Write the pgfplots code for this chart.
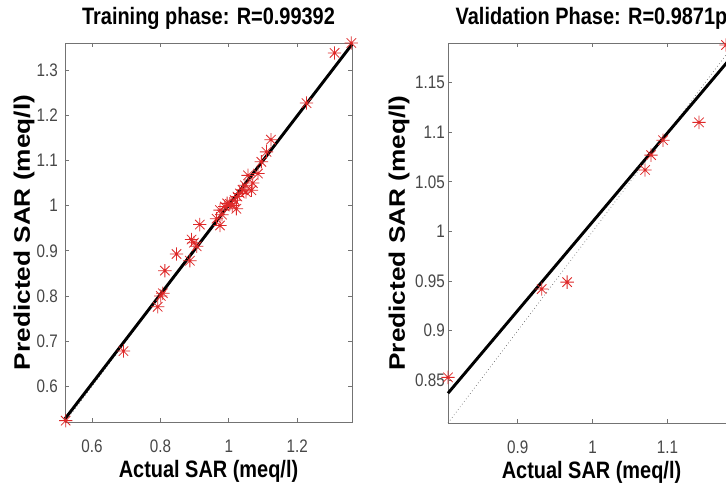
\documentclass[border=0pt]{standalone}
\usepackage{fontspec}
\setmainfont{Liberation Sans}[FakeStretch=0.84]
\newfontfamily\ylabfont{Liberation Sans}[FakeStretch=1.17]
\usepackage{pgfplots}
\pgfplotsset{compat=1.18}
\definecolor{mred}{RGB}{222,40,40}
\pgfdeclareplotmark{mstar}{%
  \pgfpathmoveto{\pgfqpoint{-\pgfplotmarksize}{0pt}}%
  \pgfpathlineto{\pgfqpoint{\pgfplotmarksize}{0pt}}%
  \pgfpathmoveto{\pgfqpoint{0pt}{-\pgfplotmarksize}}%
  \pgfpathlineto{\pgfqpoint{0pt}{\pgfplotmarksize}}%
  \pgfpathmoveto{\pgfqpoint{-0.707\pgfplotmarksize}{-0.707\pgfplotmarksize}}%
  \pgfpathlineto{\pgfqpoint{0.707\pgfplotmarksize}{0.707\pgfplotmarksize}}%
  \pgfpathmoveto{\pgfqpoint{-0.707\pgfplotmarksize}{0.707\pgfplotmarksize}}%
  \pgfpathlineto{\pgfqpoint{0.707\pgfplotmarksize}{-0.707\pgfplotmarksize}}%
  \pgfusepathqstroke}
\pgfplotsset{
  mystyle/.style={
    scale only axis, width=215.25pt, clip=false,
    anchor=south west,
    axis line style={black!55, line width=0.6pt},
    tick style={black!55, line width=0.6pt},
    major tick length=3pt,
    /pgf/number format/assume math mode=true,
    ticklabel style={font=\fontsize{13.6}{15}\selectfont, text=black!72, inner sep=0pt},
    xticklabel style={anchor=base, yshift=-23.25pt},
    title style={at={(axis description cs:0.5,1)}, anchor=base, yshift=7.5pt, inner sep=0pt,
      font=\bfseries\fontsize{17.8}{20}\selectfont},
    xlabel style={at={([yshift=-42pt]axis description cs:0.5,0)}, anchor=base, inner sep=0pt,
      font=\bfseries\fontsize{17.8}{20}\selectfont},
    ylabel style={anchor=center, inner sep=0pt,
      font=\ylabfont\bfseries\fontsize{16.8}{18}\selectfont},
    xlabel={Actual SAR (meq/l)},
    ylabel={Predicted SAR (meq/l)},
  }
}
\begin{document}
\begin{tikzpicture}
\useasboundingbox (0,0) rectangle (544.5pt,369pt);
\fill[white] (0,0) rectangle (544.5pt,369pt);
\clip (0,0) rectangle (544.5pt,369pt);
% Training
\begin{axis}[mystyle, at={(48.75pt,52.5pt)}, height=284.25pt,
  xmin=0.521, xmax=1.36, ymin=0.521, ymax=1.36,
  xtick={0.6,0.8,1,1.2}, ytick={0.6,0.7,0.8,0.9,1,1.1,1.2,1.3},
  yticklabel style={anchor=east, xshift=-5.25pt},
  ylabel style={at={([xshift=-30.75pt]axis description cs:0,0.5)}},
  title={Training phase: R=0.99392}]
\addplot[black!60, dotted, line width=0.5pt] coordinates {(0.521,0.521) (1.36,1.36)};
\addplot[black, line width=2.2pt] coordinates {(0.521,0.528) (1.36,1.357)};
\addplot[only marks, mark=mstar, mark size=5pt, color=mred, line width=0.6pt] table {
x y
0.523 0.524
0.692 0.678
0.792 0.776
0.801 0.800
0.807 0.806
0.813 0.856
0.847 0.893
0.886 0.878
0.891 0.925
0.898 0.918
0.906 0.910
0.915 0.958
0.964 0.971
0.974 0.956
0.974 0.990
0.980 0.980
0.988 0.998
0.995 1.005
1.003 1.004
1.010 1.000
1.017 1.012
1.022 0.993
1.025 1.020
1.032 1.027
1.040 1.035
1.047 1.045
1.050 1.030
1.056 1.067
1.066 1.034
1.070 1.050
1.085 1.071
1.095 1.097
1.110 1.119
1.123 1.146
1.227 1.227
1.309 1.338
1.358 1.360
};
\end{axis}
% Validation
\begin{axis}[mystyle, at={(336pt,51.75pt)}, height=285pt,
  xmin=0.807, xmax=1.19, ymin=0.807, ymax=1.19,
  xtick={0.9,1,1.1}, ytick={0.85,0.9,0.95,1,1.05,1.1,1.15},
  yticklabel style={anchor=east, xshift=-2.25pt},
  ylabel style={at={([xshift=-36.75pt]axis description cs:0,0.5)}},
  title={Validation Phase: R=0.9871p}]
\addplot[black!60, dotted, line width=0.5pt] coordinates {(0.807,0.807) (1.19,1.19)};
\addplot[black, line width=2.2pt] coordinates {(0.807,0.837) (1.19,1.180)};
\addplot[only marks, mark=mstar, mark size=5pt, color=mred, line width=0.6pt] table {
x y
0.807 0.853
0.932 0.942
0.966 0.949
1.070 1.062
1.078 1.077
1.094 1.092
1.142 1.110
1.178 1.188
};
\end{axis}
\end{tikzpicture}
\end{document}
